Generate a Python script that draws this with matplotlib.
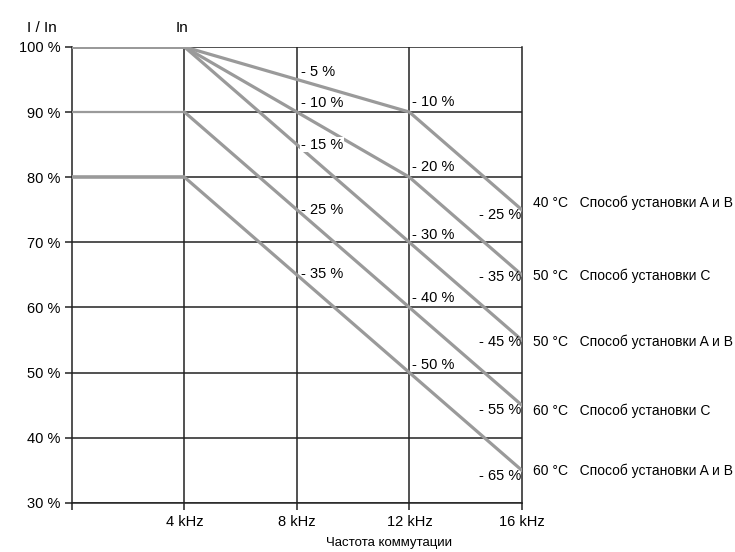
import matplotlib.pyplot as plt

# data
freq_khz = [0, 4, 8, 12, 16]
tick_labels = ['', '4 kHz', '8 kHz', '12 kHz', '16 kHz']
pct_ticks = [30, 40, 50, 60, 70, 80, 90, 100]

c40_ab = [100, 100, 95, 90, 75]
c50_c = [100, 100, 90, 80, 65]
c50_ab = [100, 100, 85, 70, 55]
c60_c = [90, 90, 75, 60, 45]
c60_ab = [80, 80, 65, 50, 35]

curves = [c40_ab, c50_c, c50_ab, c60_c, c60_ab]
curve_names = ['40 °C   Способ установки A и B',
               '50 °C   Способ установки C',
               '50 °C   Способ установки A и B',
               '60 °C   Способ установки C',
               '60 °C   Способ установки A и B']
name_y = [76.1, 64.8, 54.8, 44.2, 35.0]

# derating labels next to the 8, 12 and 16 kHz lines
lab8_y = [96.2, 91.4, 85.0, 75.0, 65.2]
lab8_txt = ['- 5 %', '- 10 %', '- 15 %', '- 25 %', '- 35 %']
lab12_y = [91.5, 81.5, 71.2, 61.5, 51.2]
lab12_txt = ['- 10 %', '- 20 %', '- 30 %', '- 40 %', '- 50 %']
lab16_y = [74.2, 64.7, 54.7, 44.3, 34.2]
lab16_txt = ['- 25 %', '- 35 %', '- 45 %', '- 55 %', '- 65 %']

plt.rcParams['font.family'] = ['Liberation Sans', 'DejaVu Sans']

gray = '#9a9a9a'
ink = '#222222'

fig = plt.figure(figsize=(7.35, 5.52), dpi=100)
ax = fig.add_axes([0.098, 0.089, 0.612, 0.826])

# grid
for v in pct_ticks:
    ax.plot([0, 16], [v, v], color=ink, lw=1.1, zorder=1)
for f in freq_khz[1:4]:
    ax.plot([f, f], [30, 100], color=ink, lw=1.1, zorder=1)

for c in curves:
    ax.plot(freq_khz[1:], c[1:], color=gray, lw=2.3, zorder=3)
    # flat part below 4 kHz
    w = 1.6 if c[0] == 90 else 2.6
    ax.plot(freq_khz[:2], c[:2], color=gray, lw=w, zorder=3, solid_capstyle='butt')

for y, t in zip(lab8_y, lab8_txt):
    kw = {}
    if t == '- 15 %':
        kw['bbox'] = dict(facecolor='white', edgecolor='none', pad=0.5)
    ax.text(8.15, y, t, fontsize=10.5, va='center', ha='left', zorder=4, **kw)
for y, t in zip(lab12_y, lab12_txt):
    ax.text(12.1, y, t, fontsize=10.5, va='center', ha='left', zorder=4)
for y, t in zip(lab16_y, lab16_txt):
    ax.text(15.97, y, t, fontsize=10.5, va='center', ha='right', zorder=4)
for y, t in zip(name_y, curve_names):
    ax.text(16.4, y, t, fontsize=10, va='center', ha='left', clip_on=False)

ax.set_xlim(0, 16)
ax.set_ylim(30, 100)
ax.set_xticks(freq_khz)
ax.set_xticklabels(tick_labels, fontsize=10.5)
ax.set_yticks(pct_ticks)
ax.set_yticklabels([f'{v} %' for v in pct_ticks], fontsize=10.5)
ax.tick_params(length=5, width=1.1, color=ink)
for s in ax.spines.values():
    s.set_color(ink)
    s.set_linewidth(1.1)
ax.spines['top'].set_visible(False)

fig.text(0.529, 0.016, 'Частота коммутации', fontsize=9.5, ha='center', va='center')
fig.text(0.057, 0.949, 'I / In', fontsize=11, ha='center', va='center')
ax.text(3.9, 102.9, 'In', fontsize=11, ha='center', va='center')

fig.savefig('out.png', dpi=100, facecolor='white')
